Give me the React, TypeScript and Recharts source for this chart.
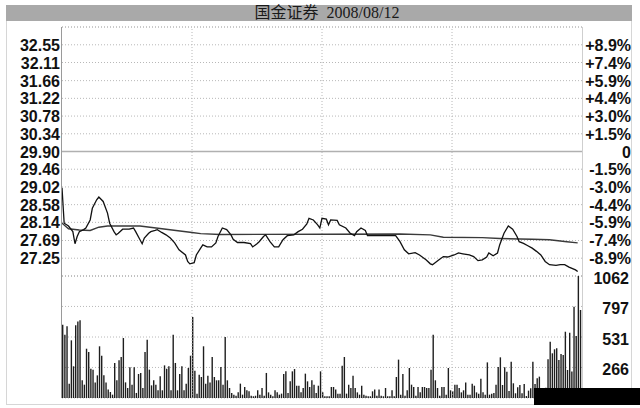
import { LineChart, Line, BarChart, Bar, XAxis, YAxis, CartesianGrid, ReferenceLine } from 'recharts';

const TITLE = '国金证券\u00a0\u00a02008/08/12';
const PREV_CLOSE = 29.9;
const PRICE_STEP = 0.4417;

const PRICE_TICKS = [32.55, 32.11, 31.66, 31.22, 30.78, 30.34, 29.9, 29.46, 29.02, 28.58, 28.14, 27.69, 27.25];
const PCT_LABELS = ['+8.9%', '+7.4%', '+5.9%', '+4.4%', '+3.0%', '+1.5%', '0', '-1.5%', '-3.0%', '-4.4%', '-5.9%', '-7.4%', '-8.9%'];
const VOL_TICKS = [266, 531, 797, 1062];
const HOUR_MARKS = [60, 120, 180];

// minute-line prices (minute index, price)
const PRICE_MIN = [0, 1, 3, 5, 6, 7, 8, 10, 11, 13, 14, 16, 17, 19, 21, 22, 24, 25, 26, 28, 31, 33, 34, 36, 37, 38, 40, 41, 43, 44, 46, 48, 50, 52, 54, 57, 58, 59, 61, 62, 64, 65, 67, 69, 71, 72, 74, 76, 78, 79, 81, 84, 87, 88, 90, 91, 93, 94, 96, 98, 100, 102, 104, 107, 109, 111, 113, 114, 116, 118, 119, 120, 122, 123, 124, 127, 128, 131, 133, 135, 136, 138, 140, 141, 144, 150, 154, 156, 158, 160, 163, 165, 168, 170, 171, 174, 176, 178, 181, 183, 185, 188, 190, 192, 194, 196, 197, 199, 201, 202, 204, 206, 208, 210, 211, 213, 215, 217, 219, 221, 223, 225, 228, 230, 232, 234, 237, 238];
const PRICE = [29.0, 28.12, 28.05, 27.91, 27.61, 27.79, 27.91, 27.96, 28.0, 28.2, 28.49, 28.7, 28.77, 28.66, 28.37, 28.12, 27.91, 27.83, 27.87, 27.97, 27.97, 28.0, 27.91, 27.71, 27.61, 27.75, 27.87, 27.91, 27.94, 27.96, 27.89, 27.83, 27.75, 27.63, 27.46, 27.33, 27.17, 27.11, 27.14, 27.33, 27.5, 27.58, 27.53, 27.53, 27.63, 27.79, 28.0, 27.96, 27.83, 27.72, 27.64, 27.64, 27.61, 27.53, 27.61, 27.66, 27.79, 27.83, 27.66, 27.53, 27.53, 27.71, 27.81, 27.83, 27.91, 27.97, 28.1, 28.24, 28.2, 28.08, 28.0, 28.24, 28.22, 28.08, 28.2, 28.19, 28.08, 28.0, 27.87, 27.81, 27.91, 28.0, 27.94, 27.81, 27.81, 27.81, 27.81, 27.66, 27.46, 27.36, 27.39, 27.33, 27.21, 27.11, 27.09, 27.21, 27.29, 27.28, 27.33, 27.38, 27.36, 27.33, 27.29, 27.19, 27.21, 27.28, 27.38, 27.31, 27.38, 27.58, 27.87, 28.05, 27.97, 27.79, 27.66, 27.62, 27.56, 27.5, 27.42, 27.33, 27.17, 27.09, 27.07, 27.09, 27.09, 27.03, 26.96, 26.92];

// average price line
const AVG_MIN = [0, 3, 8, 13, 17, 21, 36, 48, 60, 64, 73, 156, 170, 176, 194, 202, 217, 225, 233, 238];
const AVG = [28.12, 27.98, 27.95, 27.94, 28.02, 28.05, 28.05, 27.97, 27.89, 27.86, 27.84, 27.85, 27.83, 27.77, 27.76, 27.74, 27.72, 27.71, 27.66, 27.63];

// volume per minute
const VOLUME = [
  638, 551, 624, 125, 502, 276, 633, 667, 676, 154,
  116, 429, 400, 255, 247, 136, 197, 450, 368, 197,
  136, 73, 52, 29, 305, 154, 328, 357, 522, 136,
  87, 267, 116, 267, 44, 209, 218, 87, 400, 508,
  247, 110, 154, 116, 67, 189, 67, 284, 255, 276,
  67, 551, 305, 67, 209, 276, 67, 125, 261, 368,
  705, 238, 38, 203,
  183, 450, 125, 194, 136, 357, 183, 154, 154, 270,
  116, 531, 154, 87, 44, 29, 20, 49, 125, 29,
  96, 67, 58, 20, 15, 20, 67, 29, 87, 20,
  218, 49, 29, 15, 67, 49, 29, 38, 209, 232,
  44, 145, 232, 252, 107, 107, 49, 87, 212, 145,
  96, 154, 116, 44, 107, 232, 49, 15, 15, 15,
  96, 96, 73, 38, 38, 281, 357, 38, 116, 87,
  194, 87, 49, 29, 107, 29, 20, 15, 15, 58,
  73, 20, 73, 20, 15, 87, 15,
  15, 67, 15, 183, 334, 29, 209, 20, 67, 261,
  116, 96, 20, 96, 49, 96, 96, 87, 87, 247,
  551, 154, 87, 20, 96, 96, 29, 261, 67, 58,
  116, 116, 87, 49, 67, 136, 29, 29, 125, 107,
  49, 38, 168, 49, 29, 310, 29, 38, 44,
  116, 270, 354, 113, 267, 229, 60, 316, 128, 41,
  93, 113, 41, 122, 17, 64, 84, 316, 122, 171,
  186, 70, 60, 90, 337, 490, 389, 424, 432, 331,
  383, 374, 577, 244, 569, 230, 795, 540, 1062, 766,
];

const PRICE_DOMAIN = [PREV_CLOSE - 7 * PRICE_STEP, PREV_CLOSE + 7 * PRICE_STEP];
const priceData = PRICE_MIN.map((m, i) => ({ m, p: PRICE[i] }));
const avgData = AVG_MIN.map((m, i) => ({ m, a: AVG[i] }));
const volData = VOLUME.map((v, i) => ({ i, v }));

const labelStyle = {
  fontFamily: '"Liberation Sans", Arial, sans-serif',
  fontWeight: 700,
  fontSize: 16,
  fill: '#111',
};

// one axis draws both label columns: price on the left, percent on the right
const PriceTick = (props: any) => {
  const v = props.payload.value;
  return (
    <g>
      <text x={60} y={props.y} dy={6} textAnchor="end" style={labelStyle}>{Number(v).toFixed(2)}</text>
      <text x={631} y={props.y} dy={6} textAnchor="end" style={labelStyle}>{PCT_LABELS[PRICE_TICKS.indexOf(v)]}</text>
    </g>
  );
};

const VolTick = (props: any) => (
  <text x={629} y={props.y} dy={8} textAnchor="end" style={labelStyle}>{props.payload.value}</text>
);

const grid = '#b8b8b8';

export default function App() {
  return (
    <div style={{ position: 'absolute', left: 0, top: 0, width: 640, height: 408, background: '#fff', overflow: 'hidden' }}>
      <div
        style={{
          position: 'absolute', left: 6, top: 5, width: 626, height: 16, background: '#a9a9a9',
          textAlign: 'center', lineHeight: '16px', fontSize: 16, color: '#1a1a1a', paddingLeft: 16, boxSizing: 'border-box',
          fontFamily: '"Liberation Serif", "Noto Sans CJK SC", serif', whiteSpace: 'pre',
        }}
      >
        {TITLE}
      </div>
      <div style={{ position: 'absolute', left: 6, top: 21, width: 626, height: 384, border: '1px solid #d6d6d6', borderTop: 'none', boxSizing: 'border-box' }} />

      <div style={{ position: 'absolute', left: 0, top: 0 }}>
        <LineChart width={640} height={280} margin={{ top: 27, right: 58, bottom: 4, left: 0 }}>
          <XAxis type="number" dataKey="m" domain={[0, 240]} hide allowDataOverflow />
          <YAxis orientation="left" width={62} domain={PRICE_DOMAIN} ticks={PRICE_TICKS} interval={0}
            axisLine={false} tickLine={false} tick={PriceTick} allowDataOverflow />
          <CartesianGrid vertical={false} stroke={grid} strokeDasharray="1 2" />
          <ReferenceLine y={PRICE_DOMAIN[1]} stroke={grid} strokeDasharray="1 2" />
          <ReferenceLine y={PRICE_DOMAIN[0]} stroke={grid} strokeDasharray="1 2" />
          {HOUR_MARKS.map((h) => (
            <ReferenceLine key={h} x={h} stroke={grid} strokeDasharray="1 2" />
          ))}
          <ReferenceLine y={PREV_CLOSE} stroke="#b0b0b0" strokeWidth={1.5} />
          <Line data={avgData} dataKey="a" type="linear" stroke="#3a3a3a" strokeWidth={1.4} dot={false} isAnimationActive={false} />
          <Line data={priceData} dataKey="p" type="linear" stroke="#111" strokeWidth={1.3} dot={false} isAnimationActive={false} />
        </LineChart>
      </div>

      <div style={{ position: 'absolute', left: 0, top: 270 }}>
        <BarChart width={640} height={140} data={volData} margin={{ top: 6, right: 58, bottom: 12, left: 0 }} barCategoryGap={0}>
          <XAxis dataKey="i" hide />
          <YAxis width={62} domain={[0, 1062]} ticks={VOL_TICKS} interval={0} tick={VolTick} axisLine={false} tickLine={false} />
          <CartesianGrid vertical={false} stroke={grid} strokeDasharray="1 2" />
          {HOUR_MARKS.map((h) => (
            <ReferenceLine key={h} x={h} position="start" stroke={grid} strokeDasharray="1 2" />
          ))}
          <Bar dataKey="v" fill="#1e1e1e" barSize={1.4} isAnimationActive={false} />
        </BarChart>
      </div>

      <div style={{ position: 'absolute', left: 61, top: 27, width: 522, height: 371, borderLeft: '1px solid #9a9a9a', borderRight: '1px solid #cfcfcf', boxSizing: 'border-box' }} />
      <div style={{ position: 'absolute', left: 534, top: 388, width: 106, height: 17, background: '#000' }} />
    </div>
  );
}
